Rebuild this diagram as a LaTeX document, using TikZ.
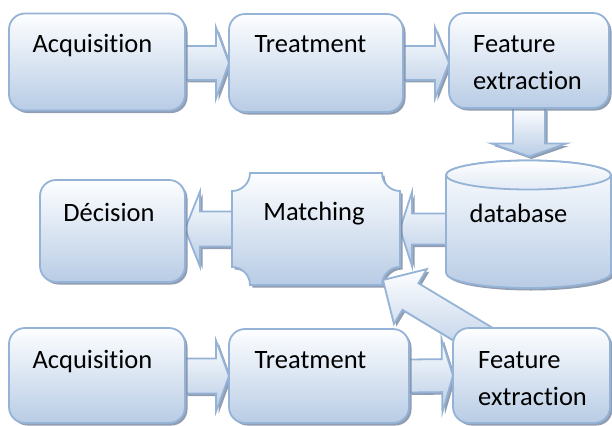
\documentclass[tikz,border=0pt]{standalone}
\usepackage{fontspec}
\setmainfont{Carlito}[Ligatures=NoCommon]
\usetikzlibrary{calc,shadows}
\definecolor{bdr}{RGB}{149,179,215}
\definecolor{topc}{RGB}{253,254,255}
\definecolor{botc}{RGB}{184,204,229}
\definecolor{shc}{RGB}{118,133,158}
\pgfdeclarelayer{back}
\pgfsetlayers{back,main}
\tikzset{
  fillstyle/.style={draw=bdr, line width=1.8pt, top color=topc, bottom color=botc,
    drop shadow={shadow xshift=2.5pt, shadow yshift=-2.5pt, fill=shc, opacity=.8}},
  box/.style={fillstyle, rounded corners=16pt, outer sep=0pt},
  blockarrow/.style={fillstyle, line join=miter},
  lbl/.style={font=\fontsize{26.5}{37}\selectfont, inner sep=0pt},
}
\newcommand\barrow[5]{%
  \coordinate (bab) at ($(#2)!#5!(#1)$);
  \path[blockarrow] ($(#1)!#3!90:(#2)$) -- ($(bab)!#3!90:(#2)$) -- ($(bab)!#4!90:(#2)$)
    -- (#2) -- ($(bab)!#4!-90:(#2)$) -- ($(bab)!#3!-90:(#2)$) -- ($(#1)!#3!-90:(#2)$) -- cycle;}
\begin{document}
\begin{tikzpicture}[x=1pt,y=-1pt]
\useasboundingbox (0,0) rectangle (612,425);
% top row
\node[box, minimum width=176pt, minimum height=97pt] (acq1) at (97,62) {};
\node[box, minimum width=174pt, minimum height=98pt] (tr1) at (316,63) {};
\node[box, minimum width=160pt, minimum height=95pt] (fe1) at (529,60.5) {};
% middle row
\node[box, minimum width=145pt, minimum height=102pt] (dec) at (112.5,231) {};
\node[minimum width=168pt, minimum height=112pt, outer sep=0pt, inner sep=0pt] (match) at (316,229) {};
\path[fillstyle] ($(match.north west)+(18,0)$) -- ($(match.north east)+(-18,0)$)
   arc[start angle=180,end angle=270,radius=18pt] -- ($(match.south east)+(0,-18)$)
   arc[start angle=90,end angle=180,radius=18pt] -- ($(match.south west)+(18,0)$)
   arc[start angle=0,end angle=90,radius=18pt] -- ($(match.north west)+(0,18)$)
   arc[start angle=-90,end angle=0,radius=18pt] -- cycle;
% database cylinder
\path[fillstyle] (446,175) -- (446,273) arc[start angle=180,end angle=360,x radius=82.5pt,y radius=15pt]
   -- (611,175) arc[start angle=0,end angle=180,x radius=82.5pt,y radius=14.5pt] -- cycle;
\path[draw=bdr, line width=1.8pt, top color=white, bottom color=topc!60!botc] (528.5,175) ellipse[x radius=82.5pt, y radius=14.5pt];
\coordinate (dbtop) at (529,156.5);
\coordinate (dbl) at (446,229);
% bottom row
\node[box, minimum width=176pt, minimum height=95pt] (acq2) at (97,375.5) {};
\node[box, minimum width=180pt, minimum height=94pt] (tr2) at (319,376) {};
\coordinate (fe2c) at (531.5,375.5);
% straight block arrows (behind boxes)
\coordinate (a1s) at (acq1.east |- tr1.west);
\coordinate (a2e) at (fe1.west |- tr1.east);
\coordinate (a5e) at (dec.east |- match.west);
\coordinate (a6s) at (acq2.east |- tr2.west);
\coordinate (a7e) at (fe2c -| 453,0);
\begin{pgfonlayer}{back}
\barrow{a1s}{tr1.west}{17pt}{35.5pt}{13pt}
\barrow{tr1.east}{a2e}{17pt}{35.5pt}{14pt}
\barrow{fe1.south}{dbtop}{16pt}{37.5pt}{13pt}
\barrow{dbl}{match.east}{15.5pt}{37pt}{12pt}
\barrow{match.west}{a5e}{17.5pt}{37.5pt}{15pt}
\barrow{a6s}{tr2.west}{17.5pt}{35.5pt}{13pt}
\barrow{tr2.east}{a7e}{16.5pt}{36.5pt}{11pt}
\end{pgfonlayer}
% diagonal arrow from bottom feature extraction to matching
\coordinate (dgs) at ($(fe2c)+(-33,-26)$);
\coordinate (dgt) at ($(match.south east)+(-17,-5)$);
\barrow{dgs}{dgt}{15.5pt}{32pt}{32pt}
\node[box, minimum width=157pt, minimum height=95pt] (fe2) at (fe2c) {};
% labels
\node[lbl, anchor=base] (t1) at (92.5,53) {Acquisition};
\node[lbl, anchor=base] (t2) at (310.5,53) {Treatment};
\node[lbl, anchor=base west, align=left] (t3) at (473,90) {Feature\\extraction};
\node[lbl, anchor=base] (t4) at (109,221) {Décision};
\node[lbl, anchor=base] (t5) at (314,220) {Matching};
\node[lbl, anchor=base] (db) at (518.5,222) {database};
\node[lbl, anchor=base] (t6) at (92.5,368) {Acquisition};
\node[lbl, anchor=base] (t7) at (310.5,368) {Treatment};
\node[lbl, anchor=base west, align=left] (t8) at (478,405) {Feature\\extraction};
\end{tikzpicture}
\end{document}
